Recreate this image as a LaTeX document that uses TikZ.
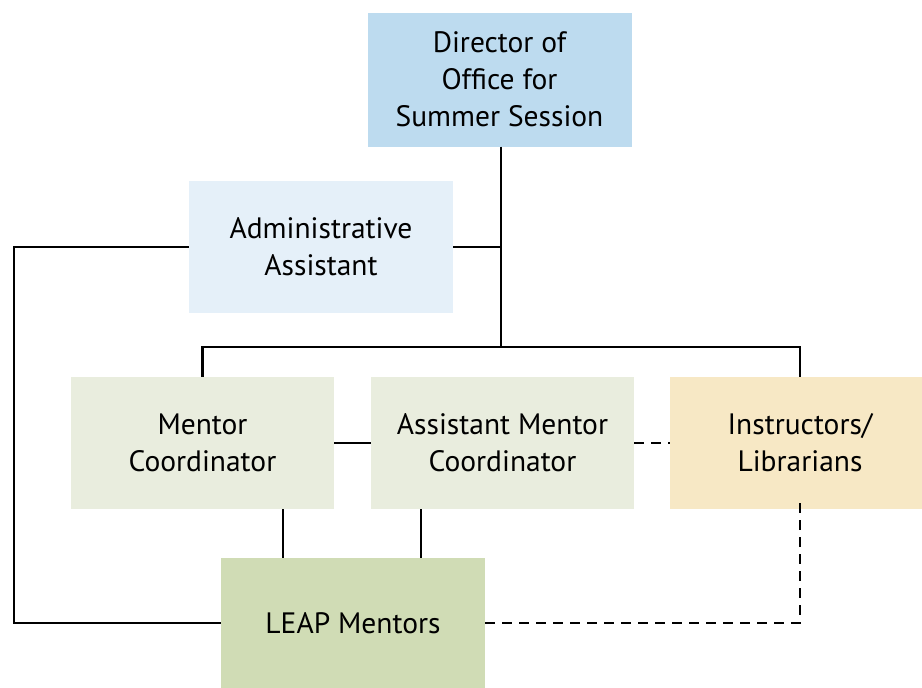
\documentclass[tikz,border=0pt]{standalone}
\usepackage{fontspec}
\setmainfont{PT Sans}
\begin{document}
\begin{tikzpicture}[x=1pt,y=-1pt,
  box/.style={rectangle,inner sep=0pt,align=center,font=\fontsize{29.5}{37}\selectfont,text=black},
  conn/.style={line width=2.4pt,black},
  dconn/.style={line width=2.4pt,black,dash pattern=on 10pt off 7pt}]
\useasboundingbox (0,0) rectangle (922,688);
\definecolor{cdir}{HTML}{BDDBEF}
\definecolor{cadm}{HTML}{E5F0F9}
\definecolor{cmc}{HTML}{E9EDDE}
\definecolor{cins}{HTML}{F7E8C5}
\definecolor{cleap}{HTML}{D0DCB5}
\node[box,fill=cdir,minimum width=264pt,minimum height=134pt] (dir) at (499.5,79.5) {Director of\\Office for\\Summer Session};
\node[box,fill=cadm,minimum width=264pt,minimum height=132pt] (adm) at (321,247) {Administrative\\Assistant};
\node[box,fill=cmc,minimum width=263pt,minimum height=132pt] (mc) at (202.5,443) {Mentor\\Coordinator};
\node[box,fill=cmc,minimum width=263pt,minimum height=132pt] (amc) at (502.5,443) {Assistant Mentor\\Coordinator};
\node[box,fill=cins,minimum width=260pt,minimum height=132pt] (ins) at (800,443) {Instructors/\\Librarians};
\node[box,fill=cleap,minimum width=264pt,minimum height=130pt] (leap) at (353,623) {LEAP Mentors};
\coordinate (bus) at (501,347);
\coordinate (lft) at (14,247);
\draw[conn] (dir.south -| bus) -- (bus);
\draw[conn] (adm.east) -- (adm.east -| bus);
\draw[conn] (mc.north) |- (bus) -| (ins.north);
\draw[conn] (adm.west) -- (lft) |- (leap.west);
\draw[conn] (mc.east) -- (amc.west);
\draw[dconn] (amc.east) -- (ins.west);
\draw[conn] ([xshift=80.5pt]mc.south) -- ([xshift=80.5pt]mc.south |- leap.north);
\draw[conn] ([xshift=-81.5pt]amc.south) -- ([xshift=-81.5pt]amc.south |- leap.north);
\draw[dconn] (leap.east) -| ([yshift=9pt]ins.south);
\end{tikzpicture}
\end{document}
